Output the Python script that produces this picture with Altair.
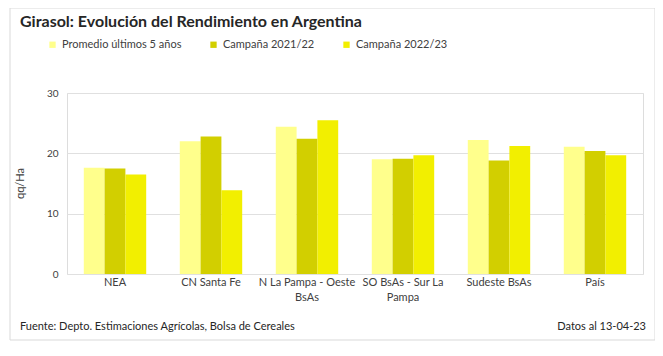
import altair as alt
import pandas as pd

categories = ["NEA", "CN Santa Fe", "N La Pampa - Oeste BsAs", "SO BsAs - Sur La Pampa", "Sudeste BsAs", "País"]
series = ["Promedio últimos 5 años", "Campaña 2021/22", "Campaña 2022/23"]
promedio = [17.6, 22.0, 24.4, 19.0, 22.2, 21.1]
camp_2122 = [17.5, 22.8, 22.4, 19.1, 18.8, 20.4]
camp_2223 = [16.5, 13.9, 25.5, 19.7, 21.2, 19.7]
colors = ["#FFFF8C", "#D2CF00", "#F2EF00"]

rows = []
for s, vals in zip(series, [promedio, camp_2122, camp_2223]):
    for c, v in zip(categories, vals):
        rows.append({"region": c, "serie": s, "valor": v})
df = pd.DataFrame(rows)

FONT = "Lato"
W, H = 576, 181

label_expr = ("datum.label == 'N La Pampa - Oeste BsAs' ? ['N La Pampa - Oeste', 'BsAs'] : "
              "datum.label == 'SO BsAs - Sur La Pampa' ? ['SO BsAs - Sur La', 'Pampa'] : datum.label")

bars = alt.Chart(df).mark_bar().encode(
    x=alt.X("region:N", sort=categories,
            scale=alt.Scale(paddingInner=0.35, paddingOuter=0.175),
            axis=alt.Axis(title=None, labelAngle=0, labelExpr=label_expr, domain=False, ticks=False,
                          labelPadding=8, labelFontSize=11, labelColor="#404040", labelFont=FONT,
                          labelLineHeight=15, labelBaseline="middle")),
    xOffset=alt.XOffset("serie:N", sort=series, scale=alt.Scale(paddingInner=0, paddingOuter=0)),
    y=alt.Y("valor:Q", scale=alt.Scale(domain=[0, 30]),
            axis=alt.Axis(title="qq/Ha", values=[0, 10, 20, 30], domain=False, ticks=False,
                          gridColor="#e0e0e0", labelPadding=9, labelFontSize=10, labelColor="#404040",
                          labelFont=FONT, titleFont=FONT, titleFontSize=11, titleFontWeight="normal",
                          titleColor="#404040", titleX=-42, titleY=90, titleAngle=-90)),
    color=alt.Color("serie:N", sort=series, scale=alt.Scale(domain=series, range=colors),
                    legend=alt.Legend(title=None, orient="none", legendX=-20, legendY=-54,
                                      direction="horizontal", symbolType="square", symbolSize=40,
                                      symbolStrokeWidth=0, labelFont=FONT, labelFontSize=11,
                                      labelColor="#404040", columnPadding=26, labelOffset=4)),
)

frame = alt.Chart(pd.DataFrame({"a": [0]})).mark_rect(fill=None, stroke="#d9d9d9", strokeWidth=1).encode(
    x=alt.value(-57), x2=alt.value(588), y=alt.value(-85), y2=alt.value(247)
)

title = alt.Chart(pd.DataFrame({"t": ["Girasol: Evolución del Rendimiento en Argentina"]})).mark_text(
    font=FONT, fontSize=16, fontWeight="bold", color="#262626", align="left", baseline="middle"
).encode(text="t:N", x=alt.value(-47), y=alt.value(-71))

foot_left = alt.Chart(pd.DataFrame({"t": ["Fuente: Depto. Estimaciones Agrícolas, Bolsa de Cereales"]})).mark_text(
    font=FONT, fontSize=11, color="#262626", align="left", baseline="middle"
).encode(text="t:N", x=alt.value(-47), y=alt.value(234))

foot_right = alt.Chart(pd.DataFrame({"t": ["Datos al 13-04-23"]})).mark_text(
    font=FONT, fontSize=11, color="#262626", align="right", baseline="middle"
).encode(text="t:N", x=alt.value(579), y=alt.value(234))

chart = alt.layer(frame, bars, title, foot_left, foot_right).properties(
    width=W, height=H,
    autosize=alt.AutoSizeParams(type="none"),
    padding={"left": 59, "top": 85, "right": 12, "bottom": 74},
).configure_view(stroke=None).configure(background="white")

chart.save("out.html", embed_options={"renderer": "svg", "actions": False})
